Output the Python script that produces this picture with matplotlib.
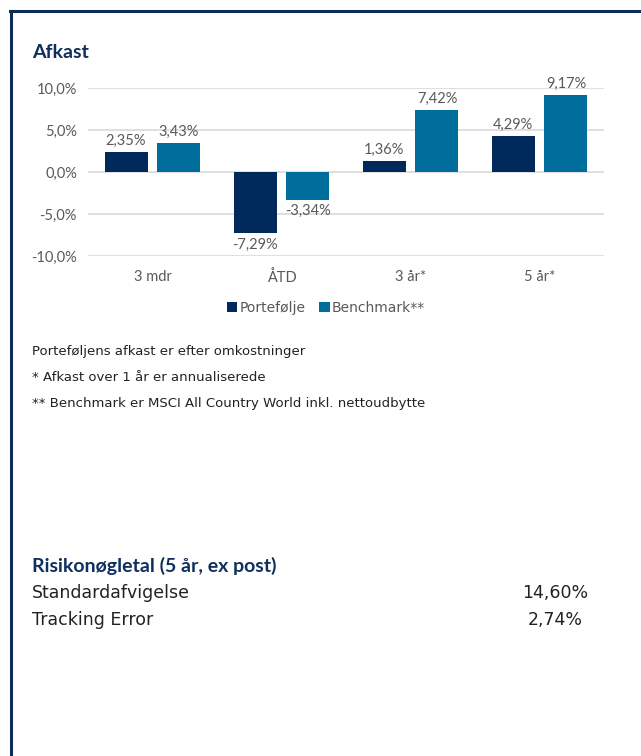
import matplotlib
matplotlib.use("Agg")
import matplotlib.pyplot as plt
import numpy as np
from matplotlib.lines import Line2D

categories = ["3 mdr", "ÅTD", "3 år*", "5 år*"]
portefolje = [2.35, -7.29, 1.36, 4.29]
benchmark = [3.43, -3.34, 7.42, 9.17]
series_names = ["Portefølje", "Benchmark**"]
yticks = [-10, -5, 0, 5, 10]
footnotes = ["Porteføljens afkast er efter omkostninger",
             "* Afkast over 1 år er annualiserede",
             "** Benchmark er MSCI All Country World inkl. nettoudbytte"]
risk_title = "Risikonøgletal (5 år, ex post)"
risk_labels = ["Standardafvigelse", "Tracking Error"]
risk_values = ["14,60%", "2,74%"]

NAVY = "#002A5C"
TEAL = "#006E9C"
GRAY = "#595959"
TITLE = "#0F2F5F"
FONT = ["Lato", "DejaVu Sans"]
WIDE = ["DejaVu Sans"]
plt.rcParams["font.family"] = FONT

W, H = 641, 756
fig = plt.figure(figsize=(W / 100, H / 100), dpi=100)

def fx(px):
    return px / W

def fy(py):
    return 1 - py / H

# frame
fig.add_artist(Line2D([fx(11), fx(11)], [fy(11), fy(756)], color="#0D2B5B", lw=2.2, transform=fig.transFigure))
fig.add_artist(Line2D([fx(10), fx(641)], [fy(11), fy(11)], color="#0D2B5B", lw=2.2, transform=fig.transFigure))

ax = fig.add_axes([fx(88), fy(256), fx(604) - fx(88), fy(88) - fy(256)])
x = np.arange(len(categories))
w = 0.333
off = 0.205
b1 = ax.bar(x - off, portefolje, w, color=NAVY, label=series_names[0], zorder=3)
b2 = ax.bar(x + off, benchmark, w, color=TEAL, label=series_names[1], zorder=3)

def fmt(v):
    return f"{v:.2f}%".replace(".", ",")

for bars, vals in ((b1, portefolje), (b2, benchmark)):
    for r, v in zip(bars, vals):
        cx = r.get_x() + r.get_width() / 2
        if v >= 0:
            ax.annotate(fmt(v), (cx, v), xytext=(0, 3), textcoords="offset points",
                        ha="center", va="bottom", fontsize=10.5, color=GRAY)
        else:
            ax.annotate(fmt(v), (cx, v), xytext=(0, -3), textcoords="offset points",
                        ha="center", va="top", fontsize=10.5, color=GRAY)

ax.set_ylim(-10, 10)
ax.set_xlim(-0.5, len(categories) - 0.5)
ax.set_yticks(yticks)
ax.set_yticklabels([f"{t:.1f}%".replace(".", ",") for t in yticks], fontsize=10.5, color=GRAY)
ax.set_xticks(x)
ax.set_xticklabels(categories, fontsize=10.5, color=GRAY)
ax.tick_params(length=0, pad=8)
ax.tick_params(axis="x", pad=10)
ax.grid(axis="y", color="#D9D9D9", lw=1.2, zorder=0)
for s in ax.spines.values():
    s.set_visible(False)

leg = fig.legend(handles=[b1, b2], labels=series_names, loc="center",
                 bbox_to_anchor=(fx(326), fy(308)), ncol=2, frameon=False,
                 prop={"family": WIDE, "size": 10}, handlelength=0.75, handleheight=0.75,
                 handletextpad=0.15, columnspacing=1.0)
for t in leg.get_texts():
    t.set_color(GRAY)

fig.text(fx(32), fy(52), "Afkast", fontsize=14, fontweight="bold", color=TITLE, va="center")

for i, t in enumerate(footnotes):
    fig.text(fx(32), fy(351 + 26.5 * i), t, fontsize=9.5, family=WIDE, color="#222222", va="center")

fig.text(fx(32), fy(566), risk_title, fontsize=14, fontweight="bold", color=TITLE, va="center")
for i, (lab, val) in enumerate(zip(risk_labels, risk_values)):
    yy = fy(593 + 27 * i)
    fig.text(fx(32), yy, lab, fontsize=12.5, family=WIDE, color="#222222", va="center")
    fig.text(fx(588 - 5 * i), yy, val, fontsize=12.5, family=WIDE, color="#222222", va="center", ha="right")

fig.savefig("out.png", dpi=100)
